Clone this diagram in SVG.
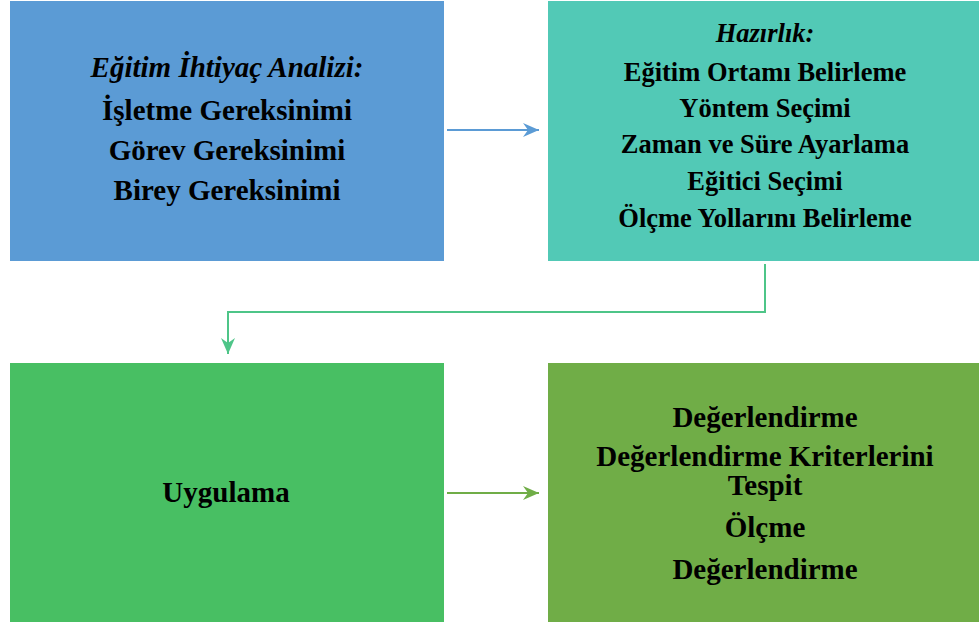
<svg xmlns="http://www.w3.org/2000/svg" width="979" height="628" viewBox="0 0 979 628">
  <style>
    .lbl { font-family: "Liberation Serif", "Times New Roman", serif; font-weight: bold; fill: #000; text-anchor: middle; }
    .it { font-style: italic; }
    .f29 { font-size: 29px; }
    .f26 { font-size: 26.5px; }
  </style>
  <defs>
    <marker id="headBlue" viewBox="0 0 16 14" refX="16" refY="7" markerWidth="16" markerHeight="14" markerUnits="userSpaceOnUse" orient="auto">
      <path d="M0,0 L16,7 L0,14 L5,7 Z" fill="#5B9BD5"/>
    </marker>
    <marker id="headMint" viewBox="0 0 16 14" refX="16" refY="7" markerWidth="16" markerHeight="14" markerUnits="userSpaceOnUse" orient="auto">
      <path d="M0,0 L16,7 L0,14 L5,7 Z" fill="#4EC588"/>
    </marker>
    <marker id="headOlive" viewBox="0 0 16 14" refX="16" refY="7" markerWidth="16" markerHeight="14" markerUnits="userSpaceOnUse" orient="auto">
      <path d="M0,0 L16,7 L0,14 L5,7 Z" fill="#70AD47"/>
    </marker>
  </defs>

  <rect width="979" height="628" fill="#ffffff"/>

  <g id="analiz">
    <rect x="10" y="1" width="434" height="260" fill="#5B9BD5"/>
    <text class="lbl it f29" x="227" y="77">Eğitim İhtiyaç Analizi:</text>
    <text class="lbl f29" x="227" y="120">İşletme Gereksinimi</text>
    <text class="lbl f29" x="227" y="160">Görev Gereksinimi</text>
    <text class="lbl f29" x="227" y="200">Birey Gereksinimi</text>
  </g>

  <g id="hazirlik">
    <rect x="548" y="1" width="431" height="260" fill="#52C9B6"/>
    <text class="lbl it f26" x="765" y="42">Hazırlık:</text>
    <text class="lbl f26" x="765" y="81">Eğitim Ortamı Belirleme</text>
    <text class="lbl f26" x="765" y="117">Yöntem Seçimi</text>
    <text class="lbl f26" x="765" y="153">Zaman ve Süre Ayarlama</text>
    <text class="lbl f26" x="765" y="190">Eğitici Seçimi</text>
    <text class="lbl f26" x="765" y="227">Ölçme Yollarını Belirleme</text>
  </g>

  <g id="uygulama">
    <rect x="10" y="363" width="434" height="259" fill="#48BF63"/>
    <text class="lbl f29" x="226" y="502">Uygulama</text>
  </g>

  <g id="degerlendirme">
    <rect x="548" y="363" width="431" height="259" fill="#70AD47"/>
    <text class="lbl f29" x="765" y="427">Değerlendirme</text>
    <text class="lbl f29" x="765" y="466">Değerlendirme Kriterlerini</text>
    <text class="lbl f29" x="765" y="495">Tespit</text>
    <text class="lbl f29" x="765" y="537">Ölçme</text>
    <text class="lbl f29" x="765" y="579">Değerlendirme</text>
  </g>

  <g id="connectors" fill="none" stroke-width="2">
    <line x1="447" y1="130" x2="539" y2="130" stroke="#5B9BD5" marker-end="url(#headBlue)"/>
    <polyline points="765,264 765,312 228,312 228,354" stroke="#4EC588" marker-end="url(#headMint)"/>
    <line x1="447" y1="493" x2="539" y2="493" stroke="#70AD47" marker-end="url(#headOlive)"/>
  </g>
</svg>
